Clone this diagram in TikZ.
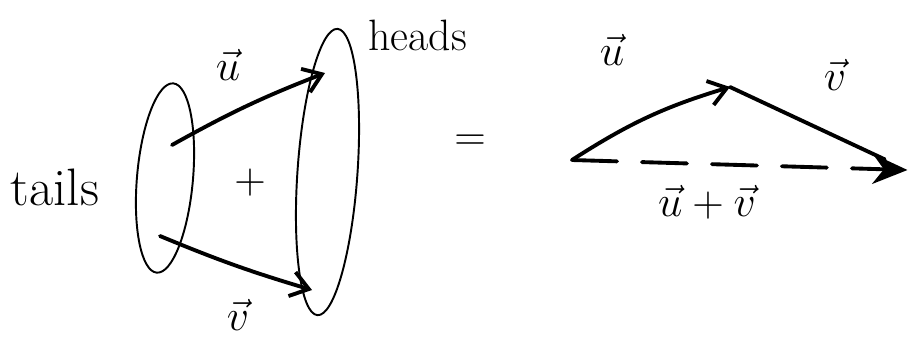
\documentclass[tikz,border=0pt]{standalone}
\usetikzlibrary{arrows.meta, positioning, shapes.geometric}
\tikzset{
  every picture/.style={line width=2.2pt},
  blob/.style={draw, ellipse, line width=1.1pt, inner sep=0pt, minimum width=#1},
  word/.style={font=\fontsize{30}{36}\selectfont},
  vlbl/.style={font=\fontsize{30}{36}\selectfont},
  vec/.style={-{Straight Barb[length=3.5mm, width=5mm]}, line cap=round},
  sumvec/.style={-{Stealth[length=7mm, width=6mm]}, line cap=round},
}

\begin{document}
\begin{tikzpicture}
  \useasboundingbox (0,0) rectangle (18.2,-7);
  % left: tails and heads
  \node[blob=1.12cm, minimum height=3.8cm, rotate=-5] (tails) at (3.3,-3.56) {};
  \node[blob=1.2cm, minimum height=5.74cm, rotate=-4] (heads) at (6.55,-3.44) {};
  \node[word] (tl) at (1.1,-3.75) {tails};
  \node[word, font=\fontsize{25}{30}\selectfont] (hl) at (8.35,-0.7) {heads};
  \coordinate (ut) at (3.44,-2.9);
  \coordinate (uh) at (6.5,-1.46);
  \coordinate (vt) at (3.2,-4.72);
  \coordinate (vh) at (6.24,-5.8);
  \draw[vec] (ut) to[bend left=4] (uh);
  \draw[vec] (vt) to[bend right=3] (vh);
  \node[vlbl] (ul) at (4.56,-1.3) {$\vec u$};
  \node[vlbl] (vl) at (4.76,-6.3) {$\vec v$};
  \node[word] (plus) at (5.0,-3.66) {$+$};
  \node[word] (eq) at (9.4,-2.86) {$=$};
  % right: head to tail
  \coordinate (o) at (11.44,-3.2);
  \coordinate (p) at (14.6,-1.74);
  \coordinate (s) at (18.15,-3.4);
  \draw[vec] (o) to[bend left=8] (p);
  \draw[line cap=round, shorten >=5mm] (p) -- (s);
  \draw[sumvec, dashed, dash pattern=on 0.9cm off 0.5cm] (o) -- (s);
  \node[vlbl] (ur) at (12.24,-1.0) {$\vec u$};
  \node[vlbl] (vr) at (16.7,-1.5) {$\vec v$};
  \node[vlbl] (uvr) at (14.14,-4.05) {$\vec u+\vec v$};
\end{tikzpicture}
\end{document}
